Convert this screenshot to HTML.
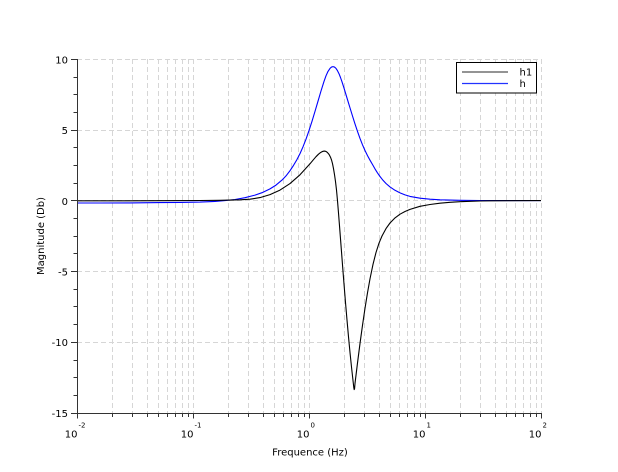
<!DOCTYPE html>
<html>
<head>
<meta charset="utf-8">
<style>
html,body{margin:0;padding:0;background:#fff;}
svg{display:block;}
text{font-family:"DejaVu Sans","Liberation Sans",sans-serif;fill:#000;}
</style>
</head>
<body>
<svg width="618" height="472" viewBox="0 0 618 472" xmlns="http://www.w3.org/2000/svg">
<rect x="0" y="0" width="618" height="472" fill="#fff"/>
<g stroke="#d6d6d6" stroke-width="1" stroke-dasharray="5,3" fill="none" shape-rendering="crispEdges">
<line x1="112.5" y1="59" x2="112.5" y2="413"/>
<line x1="132.5" y1="59" x2="132.5" y2="413"/>
<line x1="147.5" y1="59" x2="147.5" y2="413"/>
<line x1="158.5" y1="59" x2="158.5" y2="413"/>
<line x1="167.5" y1="59" x2="167.5" y2="413"/>
<line x1="175.5" y1="59" x2="175.5" y2="413"/>
<line x1="182.5" y1="59" x2="182.5" y2="413"/>
<line x1="188.5" y1="59" x2="188.5" y2="413"/>
<line x1="193.5" y1="59" x2="193.5" y2="413"/>
<line x1="228.5" y1="59" x2="228.5" y2="413"/>
<line x1="248.5" y1="59" x2="248.5" y2="413"/>
<line x1="263.5" y1="59" x2="263.5" y2="413"/>
<line x1="274.5" y1="59" x2="274.5" y2="413"/>
<line x1="283.5" y1="59" x2="283.5" y2="413"/>
<line x1="291.5" y1="59" x2="291.5" y2="413"/>
<line x1="298.5" y1="59" x2="298.5" y2="413"/>
<line x1="304.5" y1="59" x2="304.5" y2="413"/>
<line x1="309.5" y1="59" x2="309.5" y2="413"/>
<line x1="344.5" y1="59" x2="344.5" y2="413"/>
<line x1="364.5" y1="59" x2="364.5" y2="413"/>
<line x1="379.5" y1="59" x2="379.5" y2="413"/>
<line x1="390.5" y1="59" x2="390.5" y2="413"/>
<line x1="399.5" y1="59" x2="399.5" y2="413"/>
<line x1="407.5" y1="59" x2="407.5" y2="413"/>
<line x1="414.5" y1="59" x2="414.5" y2="413"/>
<line x1="420.5" y1="59" x2="420.5" y2="413"/>
<line x1="425.5" y1="59" x2="425.5" y2="413"/>
<line x1="460.5" y1="59" x2="460.5" y2="413"/>
<line x1="480.5" y1="59" x2="480.5" y2="413"/>
<line x1="495.5" y1="59" x2="495.5" y2="413"/>
<line x1="506.5" y1="59" x2="506.5" y2="413"/>
<line x1="515.5" y1="59" x2="515.5" y2="413"/>
<line x1="523.5" y1="59" x2="523.5" y2="413"/>
<line x1="530.5" y1="59" x2="530.5" y2="413"/>
<line x1="536.5" y1="59" x2="536.5" y2="413"/>
<line x1="541.5" y1="59" x2="541.5" y2="413"/>
<line x1="77" y1="59.5" x2="541" y2="59.5"/>
<line x1="77" y1="130.5" x2="541" y2="130.5"/>
<line x1="77" y1="200.5" x2="541" y2="200.5"/>
<line x1="77" y1="271.5" x2="541" y2="271.5"/>
<line x1="77" y1="342.5" x2="541" y2="342.5"/>
</g>
<polyline fill="none" stroke="#0000ff" stroke-width="1.1" stroke-linejoin="round" points="77,203 100,203 130,202.9 160,202.6 180,202.4 200,202.1 215,201.4 225,200.6 235,199.5 245,197.7 255,195.1 262,192.7 270,188.9 276,185.1 282,180.1 286,175.9 290,170.7 293.5,165.4 296.7,160 300,153.6 303,146.8 306,139.2 309,130.6 312,121.3 315,111.4 318,101.2 321,91 324,81.4 326,75.8 328,71.4 330,68.4 331.5,67.05 333,66.6 334.5,67.05 336,68.4 337.5,70.7 339,73.7 340.5,77.5 342,81.8 344,88.1 346,94.7 348,101.3 350,107.9 352.5,116 355,123.9 357.5,131.4 360,138.4 362.5,144.8 365,150.5 367.5,155.6 370,160.2 372.5,164.5 375,168.9 377.5,172.9 380,176.5 383,180.3 386,183.5 390,186.9 395,190.3 400,192.9 405,194.9 410,196.4 420,198.2 430,199.2 440,199.8 450,200.1 460,200.3 480,200.5 500,200.6 541,200.6"/>
<polyline fill="none" stroke="#000000" stroke-width="1.1" stroke-linejoin="round" points="77,200.8 120,200.8 160,200.7 200,200.5 220,200.3 230,200.1 240,199.8 250,199.2 260,197.6 270,194.6 280,190.1 290,183.6 300,174.8 310,163.8 313,160.2 316,156.7 318.5,154.2 320.5,152.6 322,151.7 323.5,151.2 324.5,151.1 325.5,151.3 326.5,151.8 327.5,152.6 328.5,153.7 329.5,155.2 330.5,157.2 331.5,159.9 332.5,163.6 333.5,168.6 334.5,174.6 335.5,181.6 336.5,190 337.5,200.8 338.5,213 339.5,225.8 340.5,238.8 341.5,251.8 342.7,267.4 344,284 345.5,302.5 347,320 348.5,336.8 350,352.5 351.5,367 352.5,376 353.3,383.2 353.8,387.6 354.2,389.6 354.6,388.5 355,383.5 357.5,363 360,343.5 362.5,325.3 365,308.3 367.5,292.8 370,278.8 373,264.4 376,252.5 379,243.2 382,236 386,228.6 390,223 395,217.9 400,214.2 405,211.5 410,209.4 420,206.3 430,204.5 440,203.2 450,202.3 460,201.7 470,201.3 480,201 490,200.8 510,200.65 541,200.6"/>
<g stroke="#333" stroke-width="1" shape-rendering="crispEdges" fill="none">
<line x1="77.5" y1="59" x2="77.5" y2="414"/>
<line x1="77" y1="413.5" x2="542" y2="413.5"/>
<line x1="71" y1="59.5" x2="77" y2="59.5"/>
<line x1="71" y1="130.5" x2="77" y2="130.5"/>
<line x1="71" y1="200.5" x2="77" y2="200.5"/>
<line x1="71" y1="271.5" x2="77" y2="271.5"/>
<line x1="71" y1="342.5" x2="77" y2="342.5"/>
<line x1="71" y1="413.5" x2="77" y2="413.5"/>
<line x1="73.5" y1="77.5" x2="77" y2="77.5"/>
<line x1="73.5" y1="94.5" x2="77" y2="94.5"/>
<line x1="73.5" y1="112.5" x2="77" y2="112.5"/>
<line x1="73.5" y1="147.5" x2="77" y2="147.5"/>
<line x1="73.5" y1="165.5" x2="77" y2="165.5"/>
<line x1="73.5" y1="183.5" x2="77" y2="183.5"/>
<line x1="73.5" y1="218.5" x2="77" y2="218.5"/>
<line x1="73.5" y1="236.5" x2="77" y2="236.5"/>
<line x1="73.5" y1="253.5" x2="77" y2="253.5"/>
<line x1="73.5" y1="289.5" x2="77" y2="289.5"/>
<line x1="73.5" y1="306.5" x2="77" y2="306.5"/>
<line x1="73.5" y1="324.5" x2="77" y2="324.5"/>
<line x1="73.5" y1="360.5" x2="77" y2="360.5"/>
<line x1="73.5" y1="377.5" x2="77" y2="377.5"/>
<line x1="73.5" y1="395.5" x2="77" y2="395.5"/>
<line x1="77.5" y1="413" x2="77.5" y2="418.5"/>
<line x1="193.5" y1="413" x2="193.5" y2="418.5"/>
<line x1="309.5" y1="413" x2="309.5" y2="418.5"/>
<line x1="425.5" y1="413" x2="425.5" y2="418.5"/>
<line x1="541.5" y1="413" x2="541.5" y2="418.5"/>
<line x1="112.5" y1="413" x2="112.5" y2="417"/>
<line x1="132.5" y1="413" x2="132.5" y2="417"/>
<line x1="147.5" y1="413" x2="147.5" y2="417"/>
<line x1="158.5" y1="413" x2="158.5" y2="417"/>
<line x1="167.5" y1="413" x2="167.5" y2="417"/>
<line x1="175.5" y1="413" x2="175.5" y2="417"/>
<line x1="182.5" y1="413" x2="182.5" y2="417"/>
<line x1="188.5" y1="413" x2="188.5" y2="417"/>
<line x1="228.5" y1="413" x2="228.5" y2="417"/>
<line x1="248.5" y1="413" x2="248.5" y2="417"/>
<line x1="263.5" y1="413" x2="263.5" y2="417"/>
<line x1="274.5" y1="413" x2="274.5" y2="417"/>
<line x1="283.5" y1="413" x2="283.5" y2="417"/>
<line x1="291.5" y1="413" x2="291.5" y2="417"/>
<line x1="298.5" y1="413" x2="298.5" y2="417"/>
<line x1="304.5" y1="413" x2="304.5" y2="417"/>
<line x1="344.5" y1="413" x2="344.5" y2="417"/>
<line x1="364.5" y1="413" x2="364.5" y2="417"/>
<line x1="379.5" y1="413" x2="379.5" y2="417"/>
<line x1="390.5" y1="413" x2="390.5" y2="417"/>
<line x1="399.5" y1="413" x2="399.5" y2="417"/>
<line x1="407.5" y1="413" x2="407.5" y2="417"/>
<line x1="414.5" y1="413" x2="414.5" y2="417"/>
<line x1="420.5" y1="413" x2="420.5" y2="417"/>
<line x1="460.5" y1="413" x2="460.5" y2="417"/>
<line x1="480.5" y1="413" x2="480.5" y2="417"/>
<line x1="495.5" y1="413" x2="495.5" y2="417"/>
<line x1="506.5" y1="413" x2="506.5" y2="417"/>
<line x1="515.5" y1="413" x2="515.5" y2="417"/>
<line x1="523.5" y1="413" x2="523.5" y2="417"/>
<line x1="530.5" y1="413" x2="530.5" y2="417"/>
<line x1="536.5" y1="413" x2="536.5" y2="417"/>
</g>
<g font-size="10" text-anchor="end">
<text x="68" y="63.3">10</text>
<text x="68" y="134">5</text>
<text x="68" y="204.8">0</text>
<text x="68" y="275.3">-5</text>
<text x="68" y="346.2">-10</text>
<text x="68" y="417">-15</text>
</g>
<g font-size="10" text-anchor="end">
<text x="77.5" y="437.5">10</text>
<text x="193.5" y="437.5">10</text>
<text x="309.5" y="437.5">10</text>
<text x="425.5" y="437.5">10</text>
<text x="541.5" y="437.5">10</text>
</g>
<g font-size="7">
<text x="78.5" y="427.3">-2</text>
<text x="194.5" y="427.3">-1</text>
<text x="310.5" y="427.3">0</text>
<text x="426.5" y="427.3">1</text>
<text x="542.5" y="427.3">2</text>
</g>
<text x="310" y="455.5" font-size="10" text-anchor="middle">Frequence (Hz)</text>
<text transform="translate(44,236) rotate(-90)" font-size="10" text-anchor="middle">Magnitude (Db)</text>
<rect x="456.5" y="62.5" width="80" height="30.5" fill="#fff" stroke="#000" stroke-width="1" shape-rendering="crispEdges"/>
<line x1="462" y1="72" x2="508" y2="72" stroke="#555" stroke-width="1.2"/>
<line x1="462" y1="83.5" x2="508" y2="83.5" stroke="#2233ff" stroke-width="1.2"/>
<text x="519.5" y="75.5" font-size="10">h1</text>
<text x="519.5" y="87" font-size="10">h</text>
</svg>
</body>
</html>
